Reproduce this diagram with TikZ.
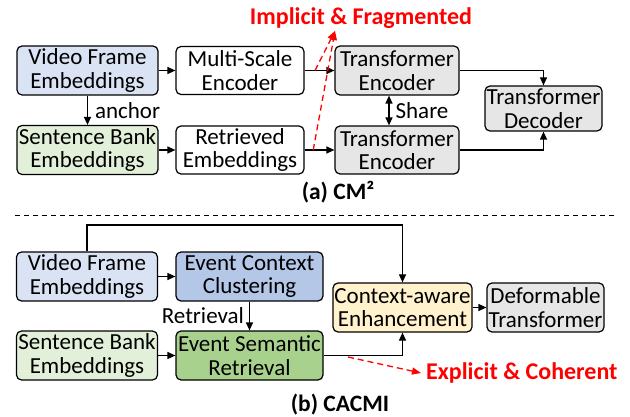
\documentclass[tikz,border=0pt]{standalone}
\usepackage{fontspec}
\setmainfont{Carlito}
\usetikzlibrary{arrows.meta,calc}
\definecolor{lblue}{HTML}{DAE3F3}
\definecolor{lgreen}{HTML}{E2F0D9}
\definecolor{lgray}{HTML}{E6E6E6}
\definecolor{mblue}{HTML}{B4C7E7}
\definecolor{mgreen}{HTML}{A9D18E}
\definecolor{lyellow}{HTML}{FFF2CC}
\definecolor{pptred}{HTML}{FF0000}
\begin{document}
\begin{tikzpicture}[x=1pt,y=-1pt,
  box/.style={draw, rounded corners=5pt, line width=1.2pt, align=center, inner sep=0pt,
    font=\fontsize{23}{23.5}\selectfont},
  wide/.style={minimum width=141pt, minimum height=49pt},
  mid/.style={minimum width=128pt, minimum height=48pt},
  arr/.style={-{Triangle[length=8pt,width=7pt]}, line width=1.2pt},
  darr/.style={{Triangle[length=8pt,width=7pt]}-{Triangle[length=8pt,width=7pt]}, line width=1.2pt},
  redarr/.style={-{Triangle[length=9pt,width=7pt]}, line width=1.3pt, dashed, dash pattern=on 6pt off 4pt, draw=pptred},
  lbl/.style={font=\fontsize{23}{24}\selectfont, inner sep=0pt},
  redlbl/.style={font=\fontsize{24}{26}\selectfont\bfseries, text=pptred, inner sep=0pt},
  captxt/.style={font=\fontsize{23.5}{25}\selectfont\bfseries, inner sep=0pt}
]
\useasboundingbox (0,0) rectangle (630,417);

% ---------- (a) ----------
\node[box, wide, fill=lblue] (vfa) at (87.5,70.5) {Video Frame\\Embeddings};
\node[box, mid, fill=white] (msa) at (240,70.5) {Multi-Scale\\Encoder};
\node[box, wide, fill=lgreen] (sba) at (87.5,150) {Sentence Bank\\Embeddings};
\node[box, mid, fill=white] (rea) at (240,150) {Retrieved\\Embeddings};
\node[box, minimum width=124pt, minimum height=49pt, fill=lgray] (tea) at (397,70.5) {Transformer\\Encoder};
\node[box, minimum width=124pt, minimum height=48pt, fill=lgray] (teb) at (397,150) {Transformer\\Encoder};
\node[box, minimum width=117pt, minimum height=45pt, fill=lgray] (tda) at (543.5,108.5) {Transformer\\Decoder};

\draw[arr] (vfa) -- node[lbl, right=7pt] {anchor} (sba);
\draw[arr] (vfa) -- (msa);
\draw[arr] (sba) -- (rea);
\draw[arr] (msa) -- (tea);
\draw[arr] (rea) -- (teb);
\draw[arr] (tea.east) -| (tda.north);
\draw[arr] (teb.east) -| (tda.south);
\draw[darr] ([xshift=-8pt]tea.south) -- node[lbl, right=6pt] {Share} ([xshift=-8pt]teb.north);

\coordinate (tipa) at (335,31);
\draw[redarr] ($(msa.east)!0.35!(tea.west)$) -- (tipa);
\draw[redarr] ($(rea.east)!0.29!(teb.west)$) -- (tipa);
\node[redlbl] (impl) at (361,18) {Implicit \& Fragmented};

\node[captxt] (capa) at (338,192) {(a) CM²};

\coordinate (sepl) at (15,216);
\coordinate (sepr) at (615,216);
\draw[line width=1pt, dash pattern=on 5pt off 4pt] (sepl) -- (sepr);

% ---------- (b) ----------
\node[box, wide, fill=lblue] (vfb) at (87,276.5) {Video Frame\\Embeddings};
\node[box, minimum width=147pt, minimum height=49pt, fill=mblue] (ecc) at (249.5,276.5) {Event Context\\Clustering};
\node[box, wide, fill=lgreen] (sbb) at (87,355.5) {Sentence Bank\\Embeddings};
\node[box, minimum width=147pt, minimum height=49pt, fill=mgreen] (esr) at (249.5,355.5) {Event Semantic\\Retrieval};
\node[box, minimum width=139pt, minimum height=49pt, fill=lyellow] (cae) at (402.5,307.5) {Context-aware\\Enhancement};
\node[box, minimum width=117pt, minimum height=49pt, fill=lgray] (dt) at (545.5,307.5) {Deformable\\Transformer};

\draw[arr] (vfb) -- (ecc);
\draw[arr] (sbb) -- (esr);
\draw[arr] (ecc) -- node[lbl, left=5pt] {Retrieval} (esr);
\coordinate (topc) at (402.5,225);
\draw[arr] (vfb.north) |- (topc) -- (cae.north);
\draw[arr] (esr.east) -| (cae.south);
\draw[arr] (cae) -- (dt);

\coordinate (rsb) at (348,357);
\coordinate (tipb) at (421,373);
\draw[redarr] (rsb) -- (tipb);
\node[redlbl, anchor=west] (expl) at (426,373) {Explicit \& Coherent};

\node[captxt] (capb) at (340,405) {(b) CACMI};
\end{tikzpicture}
\end{document}
